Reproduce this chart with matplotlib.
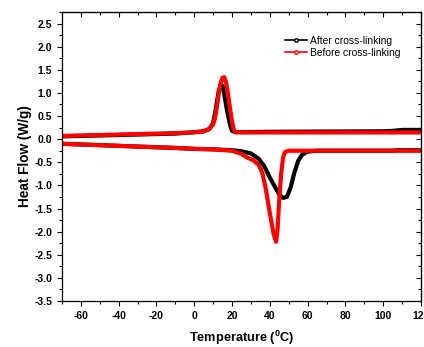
import matplotlib
matplotlib.use("Agg")
import matplotlib.pyplot as plt
from matplotlib.lines import Line2D
from matplotlib.ticker import MultipleLocator

plt.rcParams['font.family'] = ['Liberation Sans', 'DejaVu Sans']

# After cross-linking (black) - cooling (upper) and heating (lower) traces
after_cool_T = [-70, -50, -30, -10, 0, 5, 8, 10, 11, 12, 13, 14, 15, 16, 17, 18, 19, 20, 22, 40, 70, 100, 105, 110, 120]
after_cool_Y = [0.06, 0.08, 0.10, 0.12, 0.15, 0.17, 0.22, 0.35, 0.55, 0.80, 1.05, 1.17, 1.15, 0.95, 0.70, 0.50, 0.30, 0.18, 0.15, 0.16, 0.165, 0.17, 0.18, 0.20, 0.20]
after_heat_T = [-70, -50, -30, -10, 0, 10, 20, 25, 30, 34, 37, 40, 43, 45, 47, 49, 51, 53, 55, 57, 60, 65, 80, 105, 107, 120]
after_heat_Y = [-0.10, -0.13, -0.16, -0.19, -0.21, -0.22, -0.24, -0.26, -0.31, -0.42, -0.58, -0.83, -1.05, -1.20, -1.27, -1.25, -1.05, -0.72, -0.47, -0.34, -0.27, -0.25, -0.25, -0.25, -0.24, -0.24]

# Before cross-linking (red)
before_cool_T = [-70, -50, -30, -10, 0, 5, 8, 10, 11, 12, 13, 14, 15, 16, 17, 18, 19, 20, 21, 22, 30, 60, 90, 120]
before_cool_Y = [0.07, 0.09, 0.11, 0.13, 0.15, 0.17, 0.22, 0.32, 0.45, 0.70, 1.00, 1.22, 1.33, 1.34, 1.20, 0.95, 0.65, 0.38, 0.20, 0.15, 0.145, 0.145, 0.145, 0.145]
before_heat_T = [-70, -50, -30, -10, 0, 10, 20, 25, 28, 31, 34, 36, 38, 40, 42, 43.3, 44, 45, 46, 47, 48, 50, 55, 70, 90, 120]
before_heat_Y = [-0.10, -0.13, -0.16, -0.19, -0.21, -0.22, -0.25, -0.32, -0.40, -0.45, -0.55, -0.72, -1.10, -1.60, -2.05, -2.22, -2.00, -1.30, -0.75, -0.40, -0.28, -0.25, -0.25, -0.25, -0.25, -0.25]

series_labels = ["After cross-linking", "Before cross-linking"]
series_colors = ["black", "red"]

fig = plt.figure(figsize=(4.24, 3.47), dpi=100)
ax = fig.add_axes([0.146, 0.1326, 0.847, 0.8328])

lw = 3.0
ax.plot(after_cool_T, after_cool_Y, color=series_colors[0], lw=lw, solid_capstyle='round')
ax.plot(after_heat_T, after_heat_Y, color=series_colors[0], lw=lw, solid_capstyle='round')
ax.plot(before_cool_T, before_cool_Y, color=series_colors[1], lw=lw, solid_capstyle='round')
ax.plot(before_heat_T, before_heat_Y, color=series_colors[1], lw=lw, solid_capstyle='round')

ax.set_xlim(-70, 120)
ax.set_ylim(-3.5, 2.75)
ax.xaxis.set_major_locator(MultipleLocator(20))
ax.xaxis.set_minor_locator(MultipleLocator(10))
ax.yaxis.set_major_locator(MultipleLocator(0.5))
ax.yaxis.set_minor_locator(MultipleLocator(0.25))

ax.tick_params(axis='both', which='both', direction='out', labelsize=7.5, width=0.8,
               top=False, right=False)
ax.tick_params(which='major', length=3.5)
ax.tick_params(which='minor', length=2)

def fmt_x(v, pos):
    return f"{int(round(v))}"
def fmt_y(v, pos):
    return f"{v:.1f}"
ax.xaxis.set_major_formatter(fmt_x)
ax.yaxis.set_major_formatter(fmt_y)

# Inward ticks on top and right
axt = ax.secondary_xaxis('top')
axt.xaxis.set_major_locator(MultipleLocator(20))
axt.xaxis.set_minor_locator(MultipleLocator(10))
axt.tick_params(which='both', direction='in', labeltop=False, width=0.8)
axt.tick_params(which='major', length=3.5)
axt.tick_params(which='minor', length=2)
axr = ax.secondary_yaxis('right')
axr.yaxis.set_major_locator(MultipleLocator(0.5))
axr.yaxis.set_minor_locator(MultipleLocator(0.25))
axr.tick_params(which='both', direction='in', labelright=False, width=0.8)
axr.tick_params(which='major', length=3.5)
axr.tick_params(which='minor', length=2)

for s in ax.spines.values():
    s.set_linewidth(0.9)

ax.set_xlabel(r'Temperature ($^{\mathregular{0}}$C)', fontsize=9.2, fontweight='bold', labelpad=6)
ax.set_ylabel('Heat Flow (W/g)', fontsize=9.8, fontweight='bold', labelpad=2)

for t in ax.get_xticklabels() + ax.get_yticklabels():
    t.set_fontweight('bold')

handles = [Line2D([0, 0.5, 1], [0, 0, 0], color=c, lw=1.2, marker='o', markersize=2.5,
                  markerfacecolor='white', markevery=[1]) for c in series_colors]
leg = ax.legend(handles, series_labels, loc='upper left', bbox_to_anchor=(0.62, 0.918),
                frameon=False, fontsize=7.4, handlelength=2.2, handletextpad=0.3,
                labelspacing=0.2, borderaxespad=0.0, borderpad=0.0)

fig.savefig("out.png", dpi=100)
